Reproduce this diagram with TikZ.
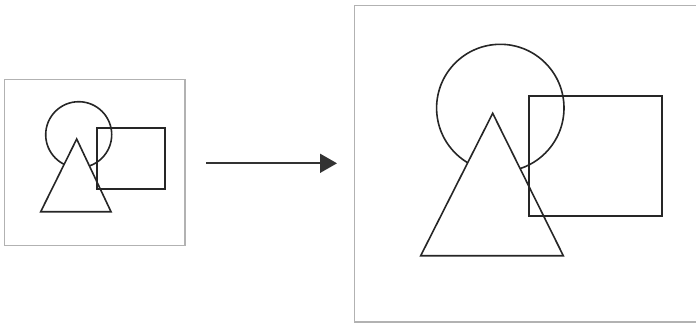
\documentclass[tikz,border=0pt]{standalone}
\usetikzlibrary{arrows.meta}
\begin{document}
\begin{tikzpicture}[x=1pt,y=-1pt,
  frame/.style={draw=black!30,line width=1.4pt},
  shp/.style={draw=black!85,line width=1.6pt},
  conn/.style={draw=black!80,line width=1.8pt,-{Triangle[length=17pt,width=19pt]}}]
\useasboundingbox (0,0) rectangle (696,325);
\clip (0,0) rectangle (696,325);
% left
\draw[frame] (4.5,79.5) rectangle (185,245.5);
\draw[shp] (78.7,134.7) circle (33);
\draw[shp,fill=white] (76.7,139) -- (111,211.7) -- (40.7,211.7) -- cycle;
\draw[shp] (96.7,127.7) rectangle (165,189);
% right
\draw[frame] (354.5,5.5) rectangle (700,322);
\draw[shp] (500.3,108) circle (63.7);
\draw[shp,fill=white] (492.7,113.3) -- (563.3,255.7) -- (420.7,255.7) -- cycle;
\draw[shp] (528.7,95.7) rectangle (661.7,216);
% arrow
\coordinate (a) at (206,163.3);
\coordinate (b) at (337,163.3);
\draw[conn] (a) -- (b);
\end{tikzpicture}
\end{document}
